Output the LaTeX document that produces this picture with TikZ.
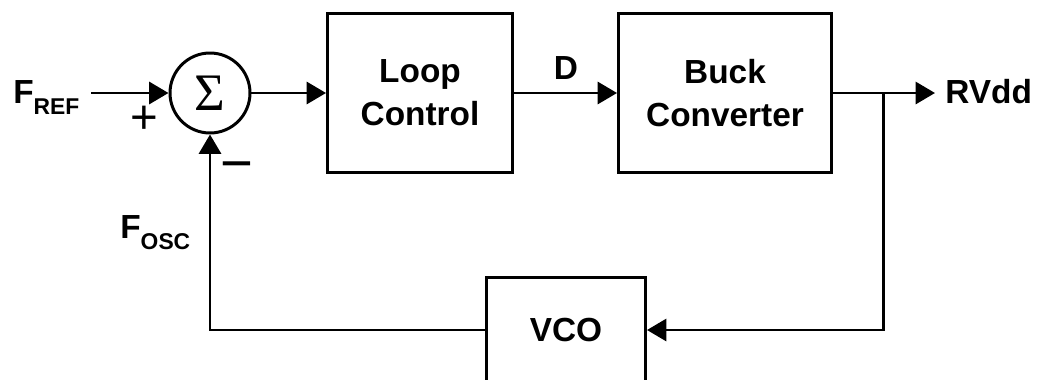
\documentclass[tikz,border=0pt]{standalone}
\usepackage{fontspec}
\setmainfont{Liberation Sans}
\newfontfamily\sigfont{Liberation Serif}
\usetikzlibrary{arrows.meta,positioning}
\tikzset{
  box/.style   = {draw, line width=1.7pt, minimum height=3.18cm, align=center,
                  font=\fontsize{19}{24.5}\selectfont\bfseries},
  wire/.style  = {line width=1.7pt},
  sig/.style   = {wire, -{Triangle[length=11pt, width=12.5pt]}},
  sumnode/.style = {circle, draw, line width=1.7pt, minimum size=1.6cm, inner sep=0pt,
                  font=\sigfont\fontsize{30}{31}\selectfont},
  lab/.style   = {inner sep=0pt, font=\fontsize{19}{22}\selectfont\bfseries},
  sgn/.style   = {inner sep=0pt},
}
\newcommand{\lowsub}[1]{\raisebox{-6.3pt}{\fontsize{13}{14}\selectfont\bfseries #1}}

\begin{document}
\begin{tikzpicture}[x=0.02cm,y=-0.02cm]
  \useasboundingbox (0,0) rectangle (1041,379);
  \clip (0,0) rectangle (1041,379);
  % blocks
  \node[sumnode] (sum) at (210,93) {Σ};
  \node[box, minimum width=3.7cm]  (loop) at (420,93) {Loop\\Control};
  \node[box, minimum width=4.26cm] (buck) at (725,93) {Buck\\Converter};
  \node[box, minimum width=3.18cm, minimum height=2.12cm] (vco) at (566,330) {VCO};
  % free ends
  \coordinate (fref) at (91,93);
  \coordinate (tap)  at (883,93);
  \coordinate (out)  at (935,93);
  % connectors
  \draw[sig] (fref) -- (sum.west);
  \draw[sig] (sum.east) -- (loop.west);
  \draw[sig] (loop.east) -- (buck.west);
  \draw[sig] (buck.east) -- (out);
  \draw[sig] (tap) |- (vco.east);
  \draw[sig] (vco.west) -| (sum.south);
  % labels
  \node[lab, anchor=base west] (lfref) at (13,103) {F\lowsub{REF}};
  \node[lab, anchor=base west] (lfosc) at (120,238) {F\lowsub{OSC}};
  \node[lab] (ld) at (566,68) {D};
  \node[lab, anchor=base west] (lout) at (945,103) {RVdd};
  \node[sgn, font=\fontsize{27}{28}\selectfont] (plus) at (144,120) {+};
  \node[sgn, font=\fontsize{32}{33}\selectfont] (minus) at (237,172) {−};
\end{tikzpicture}
\end{document}
